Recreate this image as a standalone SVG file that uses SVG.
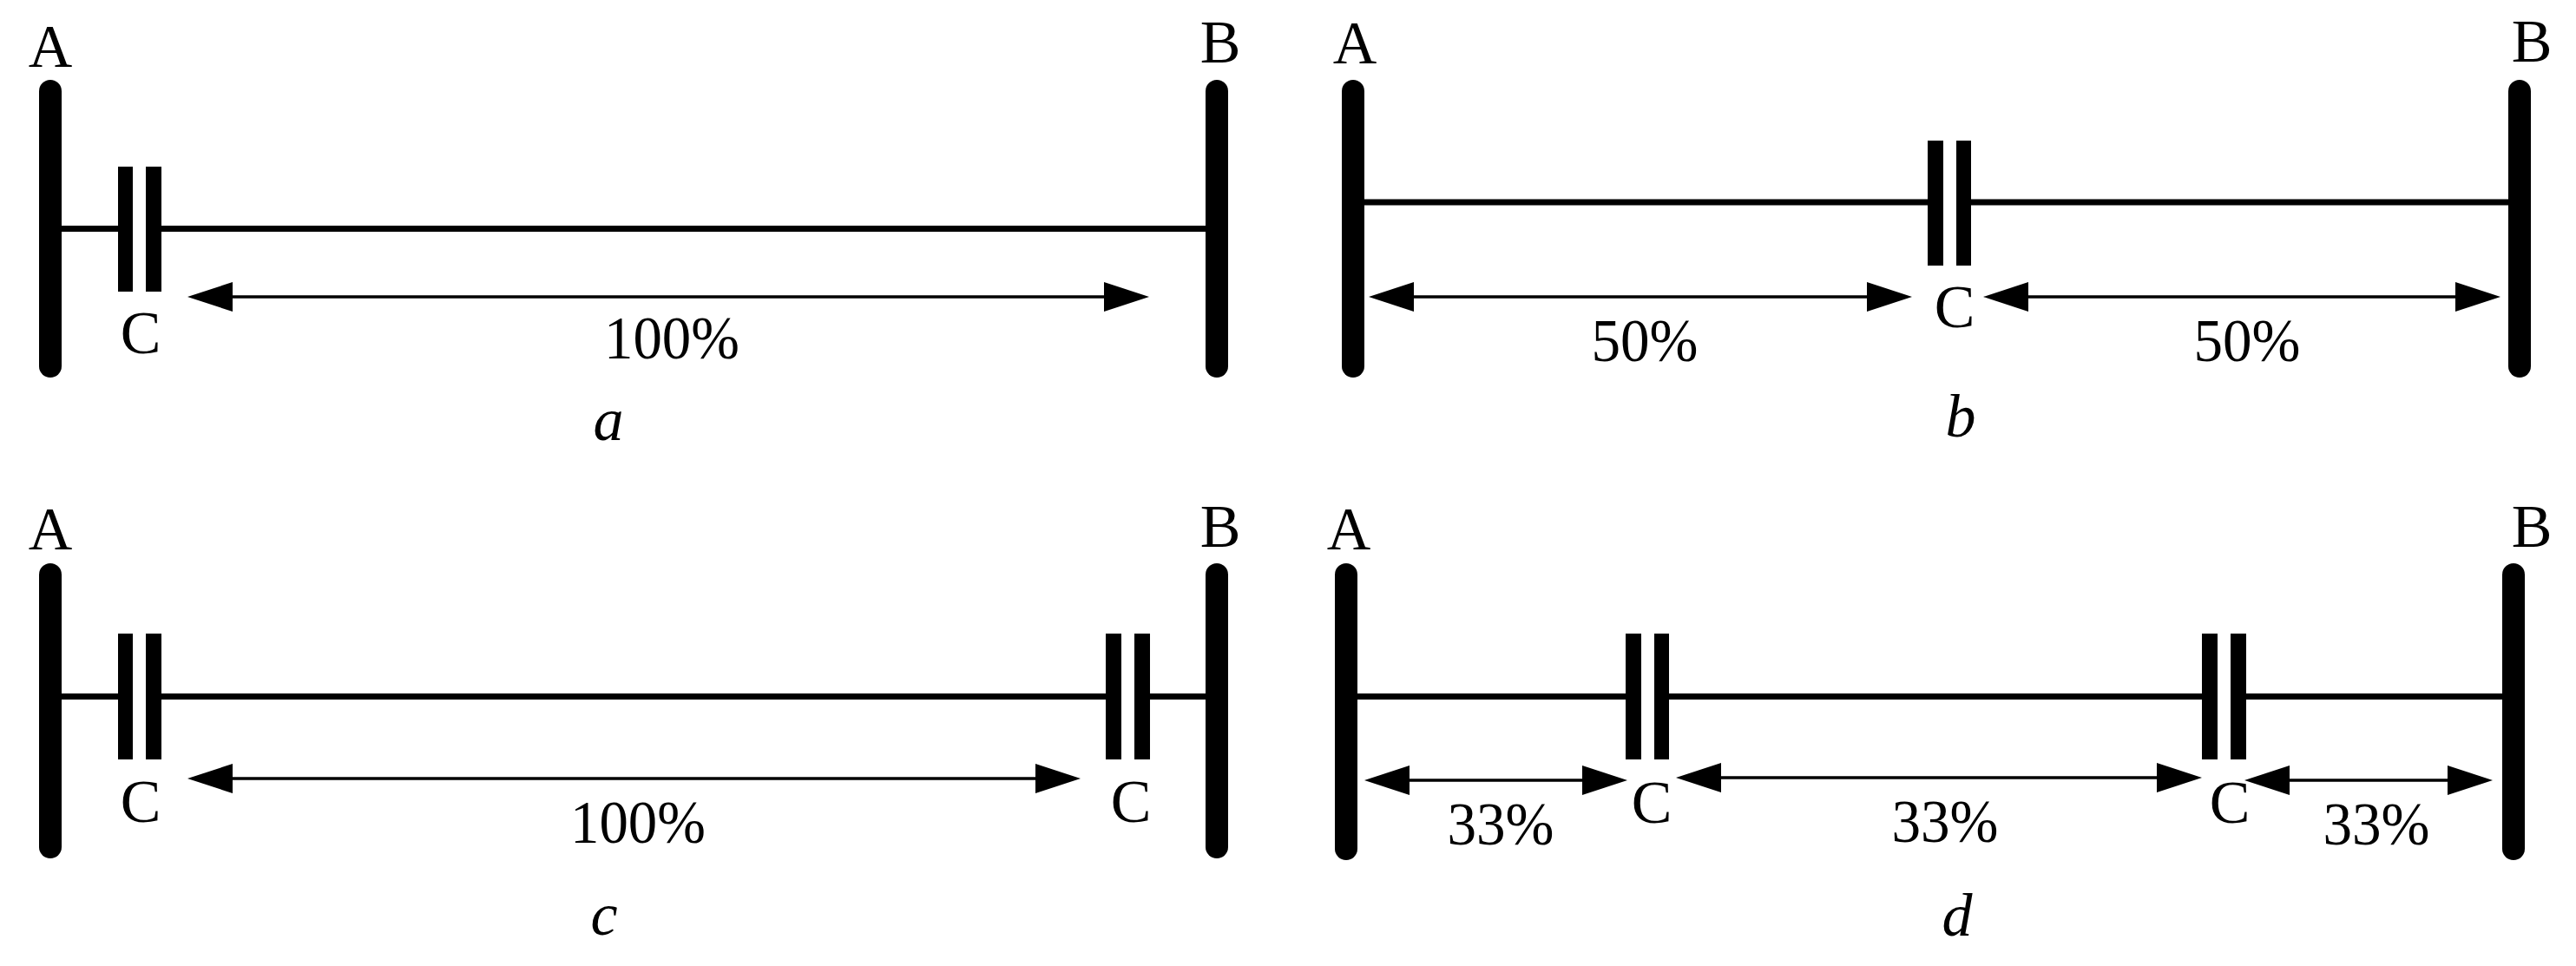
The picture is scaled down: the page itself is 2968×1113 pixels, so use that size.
<svg xmlns="http://www.w3.org/2000/svg" width="2968" height="1113" viewBox="0 0 2968 1113">
<style>
text{font-family:"Liberation Serif","Times New Roman",serif;fill:#000;text-anchor:middle}
.n{font-size:70px}
.p{font-size:69px}
.i{font-size:70px;font-style:italic}
.bus{fill:#000}
.plate{fill:#000}
.wire{stroke:#000;stroke-width:7;fill:none}
.dim{stroke:#000;stroke-width:3.5;fill:none;marker-start:url(#h);marker-end:url(#h)}
</style>
<defs>
<marker id="h" markerUnits="userSpaceOnUse" markerWidth="52" markerHeight="34" viewBox="0 0 52 34" refX="0" refY="17" orient="auto-start-reverse"><path d="M0 0L52 17L0 34Z" fill="#000"/></marker>
</defs>
<rect width="2968" height="1113" fill="#fff"/>
<g id="connectors">
<path class="wire" d="M71 263.500H136M186 263.500H1389"/>
<path class="dim" d="M268 342H1272"/>
<path class="wire" d="M1572 233H2221M2271 233H2890"/>
<path class="dim" d="M1629 342H2151"/>
<path class="dim" d="M2337 342H2829"/>
<path class="wire" d="M71 802.500H136M186 802.500H1274M1325 802.500H1389"/>
<path class="dim" d="M268 897H1193"/>
<path class="wire" d="M1564 802.500H1873M1923 802.500H2537M2588 802.500H2883"/>
<path class="dim" d="M1624 899H1823"/>
<path class="dim" d="M1983 896H2485"/>
<path class="dim" d="M2638 899H2820"/>
</g>
<g id="bus-a-A"><rect class="bus" x="45" y="92" width="26" height="343" rx="13"/><text class="n" x="58" y="77">A</text></g>
<g id="bus-a-B"><rect class="bus" x="1389" y="92" width="26" height="343" rx="13"/><text class="n" x="1406" y="72">B</text></g>
<g id="cap-a"><rect class="plate" x="136" y="192" width="17" height="144"/><rect class="plate" x="168" y="192" width="18" height="144"/><text class="n" x="162" y="407">C</text></g>
<g id="label-a"><text class="p" x="774" y="413" textLength="156" lengthAdjust="spacingAndGlyphs">100%</text><text class="i" x="701" y="507">a</text></g>

<g id="bus-b-A"><rect class="bus" x="1546" y="92" width="26" height="343" rx="13"/><text class="n" x="1561" y="73">A</text></g>
<g id="bus-b-B"><rect class="bus" x="2890" y="92" width="26" height="343" rx="13"/><text class="n" x="2917" y="71">B</text></g>
<g id="cap-b"><rect class="plate" x="2221" y="162" width="18" height="144"/><rect class="plate" x="2254" y="162" width="17" height="144"/><text class="n" x="2252" y="377">C</text></g>
<g id="label-b"><text class="p" x="1895" y="416" textLength="123" lengthAdjust="spacingAndGlyphs">50%</text><text class="p" x="2589" y="416" textLength="123" lengthAdjust="spacingAndGlyphs">50%</text><text class="i" x="2259" y="503">b</text></g>

<g id="bus-c-A"><rect class="bus" x="45" y="649" width="26" height="340" rx="13"/><text class="n" x="58" y="633">A</text></g>
<g id="bus-c-B"><rect class="bus" x="1389" y="649" width="26" height="340" rx="13"/><text class="n" x="1406" y="630">B</text></g>
<g id="cap-c1"><rect class="plate" x="136" y="730" width="17" height="145"/><rect class="plate" x="168" y="730" width="18" height="145"/><text class="n" x="162" y="947">C</text></g>
<g id="cap-c2"><rect class="plate" x="1274" y="730" width="18" height="145"/><rect class="plate" x="1307" y="730" width="18" height="145"/><text class="n" x="1303" y="947">C</text></g>
<g id="label-c"><text class="p" x="735" y="971" textLength="156" lengthAdjust="spacingAndGlyphs">100%</text><text class="i" x="696" y="1077">c</text></g>

<g id="bus-d-A"><rect class="bus" x="1538" y="649" width="26" height="342" rx="13"/><text class="n" x="1554" y="633">A</text></g>
<g id="bus-d-B"><rect class="bus" x="2883" y="649" width="26" height="342" rx="13"/><text class="n" x="2917" y="630">B</text></g>
<g id="cap-d1"><rect class="plate" x="1873" y="730" width="18" height="145"/><rect class="plate" x="1906" y="730" width="17" height="145"/><text class="n" x="1903" y="948">C</text></g>
<g id="cap-d2"><rect class="plate" x="2537" y="730" width="18" height="145"/><rect class="plate" x="2570" y="730" width="18" height="145"/><text class="n" x="2569" y="948">C</text></g>
<g id="label-d"><text class="p" x="1729" y="973" textLength="123" lengthAdjust="spacingAndGlyphs">33%</text><text class="p" x="2241" y="970" textLength="123" lengthAdjust="spacingAndGlyphs">33%</text><text class="p" x="2738" y="973" textLength="123" lengthAdjust="spacingAndGlyphs">33%</text><text class="i" x="2255" y="1078">d</text></g>
</svg>
